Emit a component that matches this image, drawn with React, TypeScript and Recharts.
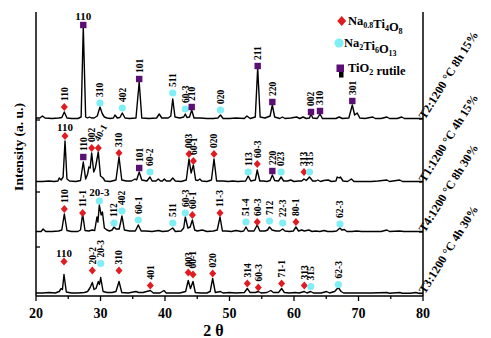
import React from "react";
import { ComposedChart, Line, Scatter, XAxis, YAxis, ReferenceDot } from "recharts";

// 2θ / intensity (above each pattern's own baseline)
const T2: [number, number][] = [
  [20, 1], [20.6, 1], [21.0, 3], [21.4, 1], [22.5, 0.5], [23.5, 1], [24.0, 1.5], [24.39, 7], [24.8, 1],
  [25.5, 0.5], [26.5, 0.5], [27.0, 2], [27.33, 92], [27.7, 2], [28.0, 1], [28.3, 2], [28.6, 1], [29.0, 1],
  [29.5, 3], [29.92, 12], [30.3, 5], [30.6, 2], [31.0, 1], [31.5, 0.5], [32.0, 1], [32.25, 4], [32.6, 1],
  [33.0, 1.5], [33.38, 6], [33.8, 1], [34.5, 0.5], [35.5, 1], [36.0, 37], [36.4, 1], [37.5, 0.5], [38.7, 1],
  [39.1, 5], [39.5, 1], [40.5, 1], [40.9, 3], [41.2, 20], [41.55, 2], [42.3, 1], [42.9, 2], [43.15, 5],
  [43.4, 1.5], [43.8, 2], [44.14, 9], [44.5, 1], [45.5, 1], [46.5, 0.5], [47.5, 0.5], [48.2, 1], [48.6, 4],
  [49.0, 0.5], [50, 0.5], [51, 1], [52.3, 0.5], [52.7, 3], [53.2, 0.5], [54.0, 2], [54.37, 51], [54.75, 2],
  [55.5, 1], [56.3, 3], [56.64, 14], [57.0, 2], [57.8, 0.5], [58.2, 2], [58.6, 0.5], [59.5, 1], [60.4, 2],
  [60.9, 0.5], [61.4, 2], [61.9, 0.5], [62.4, 1], [62.64, 5], [62.9, 1], [63.6, 0.5], [64.03, 5], [64.4, 0.5],
  [65.5, 0.5], [66.5, 0.5], [67, 2], [67.5, 0.5], [68.5, 1], [69.04, 14], [69.4, 4], [69.8, 6], [70.2, 1],
  [71, 0.5], [72.2, 2], [72.6, 0.5], [73.5, 0.5], [74.4, 2], [74.8, 0.5], [76, 0.5], [76.7, 2], [77.1, 0.5],
  [78, 0.5], [80, 0.5],
];
const T1: [number, number][] = [
  [20, 0.5], [21, 0.5], [22, 1], [22.8, 0.5], [23.4, 1], [23.6, 4], [23.9, 2], [24.2, 5], [24.5, 41], [24.8, 3],
  [25.2, 1], [26.2, 0.5], [26.9, 1.5], [27.33, 20], [27.7, 3], [28.0, 8], [28.2, 15], [28.4, 14], [28.63, 29],
  [28.95, 10], [29.2, 14], [29.66, 30], [30.0, 6], [30.4, 4], [30.7, 1], [31.5, 0.5], [32.4, 2], [32.87, 25],
  [33.3, 2], [34.0, 1], [34.8, 1], [35.35, 3], [35.6, 2], [36.0, 10], [36.4, 2], [37.2, 1], [37.67, 5], [38.0, 1],
  [38.6, 1], [38.96, 3], [39.3, 1], [39.6, 1], [39.9, 3], [40.2, 1], [40.8, 1], [41.2, 4], [41.6, 1], [42.5, 0.5],
  [43.3, 2], [43.72, 23], [44.05, 9], [44.4, 17], [44.75, 2], [45.1, 1.5], [45.4, 3], [45.7, 1], [46.5, 0.5],
  [47.2, 2], [47.6, 23], [48.0, 1], [49, 1], [49.8, 0.5], [50.5, 1], [51.3, 0.5], [52.5, 1], [52.9, 6], [53.3, 1],
  [54.0, 2], [54.3, 12], [54.7, 1], [55.3, 1], [55.8, 0.5], [56.3, 1.5], [56.64, 7], [57.0, 1.5], [57.6, 1],
  [58.0, 5], [58.4, 1], [59, 1], [59.5, 2], [60, 0.5], [60.7, 1], [61.2, 1], [61.55, 3], [61.9, 1.5], [62.4, 5],
  [62.9, 1], [63.4, 1], [63.7, 2], [64.1, 0.5], [64.6, 1.5], [65.3, 2], [65.8, 0.5], [66.5, 1], [66.7, 5],
  [67.0, 4], [67.2, 5], [67.6, 1], [68.3, 0.5], [68.9, 3], [69.3, 0.5], [70.5, 0.5], [72, 0.5], [73, 1],
  [74.4, 2], [74.8, 0.5], [76.4, 2], [76.8, 0.5], [78, 0.5], [80, 0.5],
];
const T4: [number, number][] = [
  [20, 0.5], [20.8, 0.5], [21.1, 3], [21.5, 0.5], [22.5, 0.5], [23.5, 1], [24.0, 2], [24.39, 18], [24.8, 1.5],
  [25.5, 0.5], [26.5, 0.5], [26.9, 2], [27.23, 18], [27.6, 1.5], [28.2, 1], [28.7, 2], [29.1, 1.5], [29.45, 15],
  [29.6, 10], [29.82, 27], [30.1, 17], [30.3, 20], [30.6, 4], [31.0, 2], [31.4, 1], [31.8, 2], [32.1, 5],
  [32.4, 3], [32.9, 3], [33.33, 16], [33.7, 2], [34.5, 1], [35.4, 1], [35.86, 7], [36.3, 1], [37, 1], [38, 0.5],
  [39, 1.5], [39.6, 0.5], [40.5, 1], [41.2, 4], [41.6, 0.5], [42.5, 1], [42.9, 4], [43.15, 15], [43.55, 4],
  [43.9, 5], [44.24, 12], [44.6, 2], [45, 1], [45.8, 2], [46.5, 0.5], [47.5, 1], [48.1, 2], [48.53, 15],
  [48.9, 1], [49.5, 1], [50.3, 0.5], [51, 1.5], [51.8, 0.5], [52.2, 1], [52.56, 5], [52.9, 1], [53.8, 1],
  [54.3, 7], [54.7, 1], [55.5, 1], [55.9, 2], [56.2, 5], [56.6, 2], [57.2, 1], [57.8, 1], [58.25, 3], [58.6, 1],
  [59.3, 0.5], [59.9, 1], [60.3, 5], [60.7, 1], [61.2, 2], [61.6, 1], [62.3, 2], [62.8, 0.5], [63.3, 1],
  [64, 0.5], [64.7, 1.5], [65.2, 0.5], [66, 0.5], [66.6, 1], [67.13, 4], [67.4, 2], [67.8, 2.5], [68.2, 0.5],
  [69.0, 0.5], [69.7, 1], [70.5, 0.5], [72, 0.5], [73.5, 0.5], [74.4, 2], [74.8, 0.5], [76.4, 1], [77, 0.5],
  [78, 0.5], [80, 0.5],
];
const T3: [number, number][] = [
  [20, 0.5], [21, 0.5], [22, 1], [23, 0.5], [23.6, 2], [23.9, 5], [24.1, 4], [24.34, 19], [24.7, 1.5],
  [25.5, 0.5], [26.5, 0.5], [27.5, 1], [28.0, 2], [28.4, 6], [28.73, 11], [29.0, 4], [29.3, 5], [29.66, 12],
  [29.85, 9], [30.03, 16], [30.4, 2], [31.0, 1], [31.8, 1], [32.4, 2], [32.87, 12], [33.3, 1], [34.3, 0.5],
  [35.5, 2], [35.9, 1], [36.6, 1], [37.72, 3], [38.2, 0.5], [39.2, 0.5], [39.84, 3], [40.2, 0.5], [41.2, 0.5],
  [42.3, 0.5], [43.2, 2], [43.6, 13], [43.95, 5], [44.34, 12], [44.7, 1], [45.5, 0.5], [46.5, 0.5], [47.0, 2],
  [47.39, 15], [47.8, 1], [48.6, 2], [49, 0.5], [50, 1], [51, 0.5], [52.3, 1], [52.76, 5], [53.2, 1], [54.0, 1],
  [54.47, 2], [54.9, 0.5], [55.8, 1], [56.4, 3], [56.8, 1], [57.6, 1], [58.08, 5], [58.5, 1], [59.3, 0.5],
  [60.2, 1], [60.8, 0.5], [61.6, 2], [62, 0.5], [62.6, 2], [63, 0.5], [64.2, 0.5], [65.07, 2], [65.5, 0.5],
  [66.3, 2], [66.87, 6], [67.3, 2], [67.7, 0.5], [68.8, 0.5], [70, 0.5], [72, 0.5], [74.4, 1], [74.8, 0.3],
  [76.4, 1], [76.8, 0.3], [78, 0.3], [78.9, 1], [79.3, 0.3], [80, 0.3],
];

const sampleNames = ["T2:1200 °C 8h 15%", "T1:1200 °C 4h 15%", "T4:1200 °C 8h 30%", "T3:1200 °C 4h 30%"];
const baselines = [177, 114, 64, 2.5];
const patterns = [T2, T1, T4, T3];

// phase marks: [2θ, height above baseline, phase, hkl, label direction]
// N = Na0.8Ti4O8, C = Na2Ti6O13, R = TiO2 rutile
type Mark = [number, number, string, string, string];
const T2marks: Mark[] = [
  [24.39, 12, "N", "110", "v"], [27.33, 94, "R", "110", "h"], [29.92, 16, "C", "310", "v"],
  [33.38, 11, "C", "402", "v"], [36.0, 40, "R", "101", "v"], [41.2, 26, "C", "511", "v"],
  [43.15, 10, "C", "60-3", "v"], [44.14, 12, "R", "210", "v"], [48.6, 9, "C", "020", "v"],
  [54.37, 53, "R", "211", "v"], [56.64, 17, "R", "220", "v"], [62.64, 7, "R", "002", "v"],
  [64.03, 8, "R", "310", "v"], [69.04, 18, "R", "301", "v"],
];
const T1marks: Mark[] = [
  [24.5, 46, "N", "110", "h"], [27.33, 25, "R", "110", "v"], [28.63, 34, "N", "002", "v"],
  [29.66, 34, "N", "40-1", "d"], [32.87, 29, "N", "310", "v"], [36.0, 14, "R", "101", "v"],
  [37.67, 10, "C", "60-2", "v"], [43.72, 28, "N", "003", "v"], [44.4, 21, "N", "60-1", "v"],
  [47.6, 28, "N", "020", "v"], [52.9, 10, "C", "113", "v"], [54.3, 18, "N", "60-3", "v"],
  [56.64, 11, "R", "220", "v"], [58.0, 10, "C", "023", "v"], [61.55, 10, "N", "313", "v"],
  [62.4, 10, "C", "315", "v"],
];
const T4marks: Mark[] = [
  [24.39, 23, "N", "110", "v"], [27.23, 19, "N", "11-1", "v"], [29.82, 31, "C", "20-3", "h"],
  [32.1, 9, "C", "112", "v"], [33.33, 21, "C", "402", "v"], [35.86, 12, "C", "60-1", "v"],
  [41.2, 9, "C", "511", "v"], [43.15, 19, "C", "60-3", "v"], [44.24, 17, "N", "60-1", "v"],
  [48.53, 19, "N", "11-3", "v"], [52.56, 10, "C", "51-4", "v"], [54.3, 10, "N", "60-3", "v"],
  [56.2, 11, "C", "712", "v"], [58.25, 9, "C", "22-3", "v"], [60.3, 10, "N", "80-1", "v"],
  [67.13, 8, "C", "62-3", "v"],
];
const T3marks: Mark[] = [
  [24.34, 32, "N", "110", "h"], [28.73, 23, "N", "20-2", "v"], [30.03, 30, "C", "20-3", "v"],
  [32.87, 23, "N", "310", "v"], [37.72, 8, "N", "401", "v"], [43.6, 21, "N", "003", "v"],
  [44.34, 19, "N", "60-1", "v"], [47.39, 20, "N", "020", "v"], [52.76, 10, "N", "314", "v"],
  [54.47, 6, "N", "60-3", "v"], [58.08, 10, "N", "71-1", "v"], [61.6, 8, "N", "313", "v"],
  [62.6, 7, "C", "315", "v"], [66.87, 9, "C", "62-3", "v"],
];
const markSets = [T2marks, T1marks, T4marks, T3marks];

const xTicks = [20, 25, 30, 35, 40, 45, 50, 55, 60, 65, 70, 75, 80];
const leftTicks = [176, 104, 49];

const RED = "#e01b22";
const CYAN = "#80eef5";
const PURPLE = "#5b0e73";
const SERIF = "'Liberation Serif', 'Times New Roman', serif";

const lineData = patterns.map((p, i) => p.map(([x, y]) => ({ x, y: y + baselines[i] })));
const markData = markSets.flatMap((m, i) =>
  m.map(([x, h, phase, hkl, dir]) => ({ x, y: h + baselines[i], phase, hkl, dir }))
);

function PeakMark(props: any) {
  const { cx, cy, payload } = props;
  if (cx == null || cy == null) return null;
  let icon;
  if (payload.phase === "N") {
    icon = <polygon points={`${cx},${cy - 4} ${cx + 3.5},${cy} ${cx},${cy + 4} ${cx - 3.5},${cy}`} fill={RED} />;
  } else if (payload.phase === "C") {
    icon = <circle cx={cx} cy={cy} r={3.6} fill={CYAN} />;
  } else {
    icon = <rect x={cx - 3.2} y={cy - 3.2} width={6.4} height={6.4} fill={PURPLE} />;
  }
  let label;
  if (payload.dir === "h") {
    label = (
      <text x={cx} y={cy - 5} textAnchor="middle" fontSize={11} fontWeight="bold" fontFamily={SERIF}>
        {payload.hkl}
      </text>
    );
  } else {
    const rot = payload.dir === "d" ? -62 : -90;
    const dx = payload.dir === "d" ? 1 : 3.3;
    label = (
      <text transform={`translate(${cx + dx},${cy - 6}) rotate(${rot})`} fontSize={9.5} fontWeight="bold" fontFamily={SERIF}>
        {payload.hkl}
      </text>
    );
  }
  return (
    <g>
      {icon}
      {label}
    </g>
  );
}

function BottomTick({ x, y, payload }: any) {
  const major = payload.value % 10 === 0;
  return (
    <g>
      <line x1={x} x2={x} y1={y} y2={y + (major ? 5 : 3)} stroke="#000" strokeWidth={1.3} />
      {major && (
        <text x={x} y={y + 22} textAnchor="middle" fontSize={14} fontWeight="bold" fontFamily={SERIF}>
          {payload.value}
        </text>
      )}
    </g>
  );
}

// sample name written slanted off the right frame, at each pattern's baseline
const sampleTag = (name: string) => (p: any) => {
  const x = p.cx + 2;
  const y = p.cy + 1;
  return (
    <g>
      <line x1={p.cx - 4} x2={p.cx} y1={p.cy} y2={p.cy} stroke="#000" strokeWidth={1.3} />
      <text x={x} y={y} transform={`rotate(-58 ${x} ${y})`} fontSize={12} fontWeight="bold" fontFamily={SERIF}>
        {name}
      </text>
    </g>
  );
};

const leftTick = (p: any) => <line x1={p.cx} x2={p.cx + 4} y1={p.cy} y2={p.cy} stroke="#000" strokeWidth={1.3} />;

function Legend() {
  const sub = (s: string) => (
    <>
      <tspan fontSize={8} dy={3}>{s}</tspan>
      <tspan dy={-3}></tspan>
    </>
  );
  return (
    <svg width={491} height={338} style={{ position: "absolute", left: 0, top: 0, pointerEvents: "none" }}>
      <g fontFamily={SERIF} fontWeight="bold" fontSize={12.5}>
        <polygon points="341.7,16 346.2,21 341.7,26 337.2,21" fill={RED} />
        <text x={348} y={25}>
          Na{sub("0.8")}Ti{sub("4")}O{sub("8")}
        </text>
        <circle cx={339} cy={43} r={4.6} fill={CYAN} />
        <text x={344} y={47}>
          Na{sub("2")}Ti{sub("6")}O{sub("13")}
        </text>
        <rect x={336.5} y={64.5} width={7.5} height={7.5} fill={PURPLE} />
        <rect x={339} y={72} width={4.5} height={5.5} fill="#000" />
        <text x={348} y={72}>
          TiO{sub("2")} rutile
        </text>
      </g>
    </svg>
  );
}

export default function App() {
  return (
    <div style={{ position: "relative", width: 491, height: 338, background: "#fff" }}>
      <style>{"body{margin:0}"}</style>
      <ComposedChart width={491} height={338} margin={{ top: 12, right: 0, bottom: 0, left: 0 }}>
        <XAxis
          xAxisId="b"
          dataKey="x"
          type="number"
          domain={[20, 80]}
          ticks={xTicks}
          interval={0}
          height={42}
          tickSize={0}
          tickMargin={0}
          tickLine={false}
          tick={<BottomTick />}
          axisLine={{ stroke: "#000", strokeWidth: 1.5 }}
          label={{
            content: ({ viewBox }: any) => (
              <text
                x={viewBox.x + viewBox.width / 2 - 16}
                y={viewBox.y + 40}
                textAnchor="middle"
                fontSize={16}
                fontWeight="bold"
                fontFamily={SERIF}
              >
                2 θ
              </text>
            ),
          }}
        />
        <XAxis
          xAxisId="t"
          orientation="top"
          dataKey="x"
          type="number"
          domain={[20, 80]}
          height={0}
          tick={false}
          tickLine={false}
          axisLine={{ stroke: "#000", strokeWidth: 1.5 }}
        />
        <YAxis
          yAxisId="l"
          dataKey="y"
          type="number"
          domain={[0, 284]}
          width={36}
          tick={false}
          tickLine={false}
          axisLine={{ stroke: "#000", strokeWidth: 1.5 }}
          label={{
            content: ({ viewBox }: any) => (
              <text
                transform={`translate(${viewBox.x + 23},${viewBox.y + viewBox.height / 2 - 7}) rotate(-90)`}
                textAnchor="middle"
                fontSize={13.5}
                fontWeight="bold"
                fontFamily={SERIF}
              >
                Intensity (a. u.)
              </text>
            ),
          }}
        />
        <YAxis
          yAxisId="r"
          orientation="right"
          type="number"
          domain={[0, 284]}
          width={68}
          tick={false}
          tickLine={false}
          axisLine={{ stroke: "#000", strokeWidth: 1.5 }}
        />
        {lineData.map((d, i) => (
          <Line
            key={sampleNames[i]}
            data={d}
            dataKey="y"
            xAxisId="b"
            yAxisId="l"
            type="linear"
            stroke="#000"
            strokeWidth={1.4}
            strokeLinejoin="round"
            dot={false}
            activeDot={false}
            isAnimationActive={false}
          />
        ))}
        <Scatter
          data={markData}
          dataKey="y"
          xAxisId="b"
          yAxisId="l"
          shape={PeakMark}
          isAnimationActive={false}
        />
        {leftTicks.map((v) => (
          <ReferenceDot key={"l" + v} x={20} y={v} xAxisId="b" yAxisId="l" r={0} shape={leftTick} />
        ))}
        {baselines.map((v, i) => (
          <ReferenceDot key={sampleNames[i]} x={80} y={v} xAxisId="b" yAxisId="l" r={0} shape={sampleTag(sampleNames[i])} />
        ))}
      </ComposedChart>
      <Legend />
    </div>
  );
}
